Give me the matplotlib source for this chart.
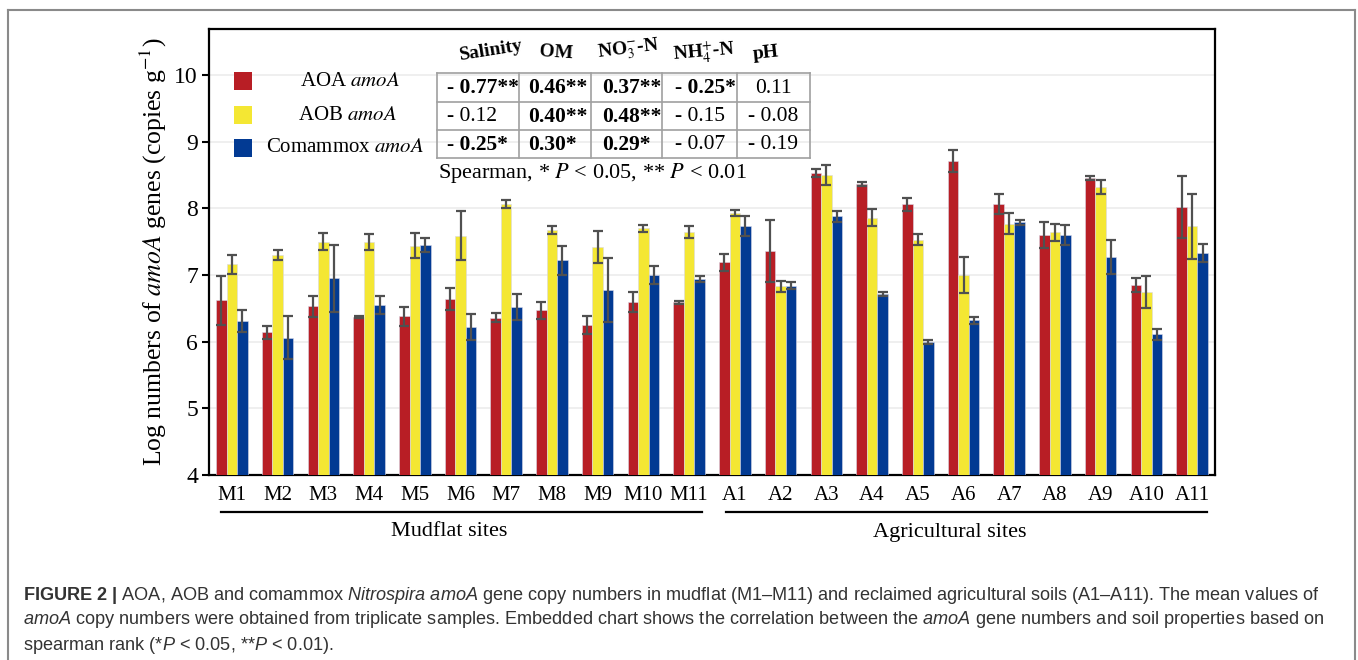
import matplotlib
matplotlib.use("Agg")
import matplotlib.pyplot as plt
import numpy as np
from matplotlib.lines import Line2D
from matplotlib.patches import Rectangle

W, H = 1358, 660

# ---- data ----
sites = ['M1', 'M2', 'M3', 'M4', 'M5', 'M6', 'M7', 'M8', 'M9', 'M10', 'M11',
         'A1', 'A2', 'A3', 'A4', 'A5', 'A6', 'A7', 'A8', 'A9', 'A10', 'A11']
aoa = [6.62, 6.14, 6.53, 6.37, 6.38, 6.64, 6.36, 6.47, 6.25, 6.59, 6.59,
       7.19, 7.36, 8.53, 8.37, 8.06, 8.71, 8.06, 7.60, 8.45, 6.85, 8.02]
aoa_err = [0.37, 0.10, 0.16, 0.02, 0.14, 0.16, 0.07, 0.13, 0.14, 0.15, 0.02,
           0.13, 0.46, 0.06, 0.03, 0.10, 0.16, 0.15, 0.20, 0.03, 0.10, 0.47]
aob = [7.16, 7.30, 7.50, 7.50, 7.44, 7.59, 8.06, 7.68, 7.42, 7.70, 7.65,
       7.93, 6.83, 8.50, 7.86, 7.53, 7.00, 7.77, 7.64, 8.32, 6.74, 7.73]
aob_err = [0.14, 0.08, 0.13, 0.12, 0.19, 0.37, 0.06, 0.06, 0.24, 0.05, 0.09,
           0.05, 0.08, 0.15, 0.13, 0.08, 0.27, 0.16, 0.13, 0.10, 0.24, 0.49]
com = [6.31, 6.06, 6.95, 6.55, 7.45, 6.22, 6.52, 7.22, 6.77, 7.00, 6.94,
       7.73, 6.84, 7.88, 6.71, 5.99, 6.32, 7.79, 7.60, 7.27, 6.11, 7.33]
com_err = [0.17, 0.32, 0.50, 0.14, 0.11, 0.20, 0.20, 0.22, 0.48, 0.13, 0.04,
           0.15, 0.05, 0.08, 0.03, 0.03, 0.05, 0.04, 0.15, 0.25, 0.08, 0.14]

series_names = [r'AOA $\mathit{amoA}$', r'AOB $\mathit{amoA}$', r'Comammox $\mathit{amoA}$']
colors = ['#B81E25', '#F4E733', '#023A93']

corr_cols = ['Salinity', 'OM', r'NO$_3^{-}$-N', r'NH$_4^{+}$-N', 'pH']
corr_vals = [['- 0.77**', '0.46**', '0.37**', '- 0.25*', '0.11'],
             ['- 0.12', '0.40**', '0.48**', '- 0.15', '- 0.08'],
             ['- 0.25*', '0.30*', '0.29*', '- 0.07', '- 0.19']]
corr_bold = [[1, 1, 1, 1, 0],
             [0, 1, 1, 0, 0],
             [1, 1, 1, 0, 0]]

caption = [r'$\mathbf{FIGURE\ 2\ |}$ AOA, AOB and comammox $\mathit{Nitrospira\ amoA}$ gene copy numbers in mudflat (M1–M11) and reclaimed agricultural soils (A1–A11). The mean values of',
           r'$\mathit{amoA}$ copy numbers were obtained from triplicate samples. Embedded chart shows the correlation between the $\mathit{amoA}$ gene numbers and soil properties based on',
           r'spearman rank (*$\mathit{P}$ < 0.05, **$\mathit{P}$ < 0.01).']

plt.rcParams['font.family'] = 'Liberation Serif'
plt.rcParams['mathtext.fontset'] = 'custom'
plt.rcParams['mathtext.rm'] = 'Liberation Sans'
plt.rcParams['mathtext.it'] = 'Liberation Sans:italic'
plt.rcParams['mathtext.bf'] = 'Liberation Sans:bold'


def px(x, y):
    # figure pixel (from top-left) -> figure fraction
    return x / W, 1 - y / H


fig = plt.figure(figsize=(W / 100, H / 100), dpi=100)
ax = fig.add_axes([209 / W, 1 - 475 / H, (1215 - 209) / W, (475 - 29) / H])

x = np.arange(len(sites))
w = 0.23
ekw = dict(ecolor='#505050', elinewidth=1.6, capsize=3.5, capthick=1.6)
for i, (vals, errs) in enumerate([(aoa, aoa_err), (aob, aob_err), (com, com_err)]):
    ax.bar(x + (i - 1) * w, np.array(vals) - 4, w, bottom=4, yerr=errs,
           color=colors[i], edgecolor='#d8d8e8', linewidth=0.4,
           error_kw=ekw, zorder=3)

ax.set_xlim(-0.5, 21.5)
ax.set_ylim(4, 10.69)
ax.set_yticks(range(4, 11))
ax.yaxis.grid(True, color='#ececec', linewidth=1.2, zorder=0)
ax.set_axisbelow(True)
ax.set_xticks(x)
ax.set_xticklabels(sites, fontsize=15)
ax.tick_params(axis='x', length=0, pad=8)
ax.tick_params(axis='y', labelsize=17, length=5, width=1.5, pad=3)
for s in ax.spines.values():
    s.set_linewidth(1.6)
    s.set_color('black')

ax.set_ylabel(r'Log numbers of $\mathit{amoA}$ genes (copies g$^{\mathrm{-1}}$)',
              fontsize=18.5, math_fontfamily='stix', labelpad=4)

# legend squares
leg_y = [81, 115, 148]
leg_tx = [350, 348, 345]
for c, name, yy, tx in zip(colors, series_names, leg_y, leg_tx):
    x0, y0 = px(234, yy + 9)
    fig.patches.append(Rectangle((x0, y0), 18 / W, 18 / H, transform=fig.transFigure,
                                 facecolor=c, edgecolor='none'))
    fig.text(*px(tx, yy), name, fontsize=15, ha='center', va='center',
             math_fontfamily='stix')

# correlation table
col_edges = [437, 519, 591, 662, 737, 810]
row_edges = [73, 101.5, 129.5, 158]
for xe in col_edges:
    fig.add_artist(Line2D([xe / W] * 2, [1 - row_edges[0] / H, 1 - row_edges[-1] / H],
                          transform=fig.transFigure, color='#a0a0a0', lw=1.2))
for ye in row_edges:
    fig.add_artist(Line2D([col_edges[0] / W, col_edges[-1] / W], [1 - ye / H] * 2,
                          transform=fig.transFigure, color='#a0a0a0', lw=1.2))
cell_x = [447, 528, 602, 675, 773]
for r, row in enumerate(corr_vals):
    yc = (row_edges[r] + row_edges[r + 1]) / 2
    for c, val in enumerate(row):
        fig.text(*px(cell_x[c], yc + 1), val, fontsize=15.5,
                 fontweight='bold' if corr_bold[r][c] else 'normal',
                 ha='center' if c == 4 else 'left', va='center')

head_x = [491, 556, 629, 704, 766]
head_y = [51, 53, 50, 52, 53]
head_rot = [9, -4, 7, 5, 6]
for name, hx, hy, rot in zip(corr_cols, head_x, head_y, head_rot):
    fig.text(*px(hx, hy), name, fontsize=14, fontweight='bold', ha='center',
             va='center', rotation=rot, math_fontfamily='stix')

fig.text(*px(438, 173), r'Spearman, * $\mathit{P}$ < 0.05, ** $\mathit{P}$ < 0.01',
         fontsize=16, ha='left', va='center', math_fontfamily='stix')

# site group brackets
for (x1, x2), tx, label in [((221, 702), 449, 'Mudflat sites'),
                            ((726, 1207), 950, 'Agricultural sites')]:
    fig.add_artist(Line2D([x1 / W, x2 / W], [1 - 512 / H] * 2,
                          transform=fig.transFigure, color='black', lw=1.6))
    fig.text(*px(tx, 532), label, fontsize=16, ha='center', va='center')

# outer frame
gray = '#8a8a8a'
fig.add_artist(Line2D([8 / W, 1355 / W], [1 - 10 / H] * 2, transform=fig.transFigure, color=gray, lw=1.5))
fig.add_artist(Line2D([8 / W] * 2, [0, 1 - 10 / H], transform=fig.transFigure, color=gray, lw=1.5))
fig.add_artist(Line2D([1355 / W] * 2, [0, 1 - 10 / H], transform=fig.transFigure, color=gray, lw=1.5))

# caption
for i, line in enumerate(caption):
    fig.text(*px(23, 595 + 25 * i), line, fontsize=13.1, family='Liberation Sans',
             color='#333333', ha='left', va='center')

fig.savefig('out.png', dpi=100)
